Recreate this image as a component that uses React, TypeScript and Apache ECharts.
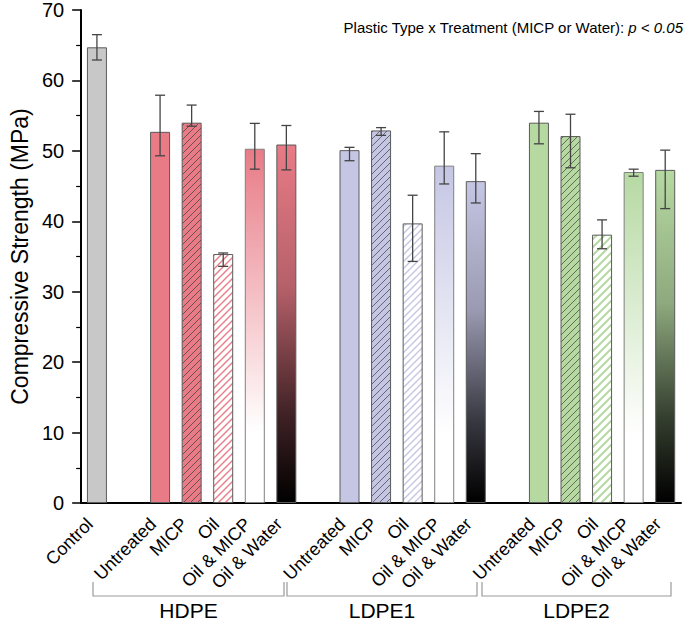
import React, { useEffect, useRef } from 'react';
import * as echarts from 'echarts';

const treatments = ['Untreated', 'MICP', 'Oil', 'Oil & MICP', 'Oil & Water'];
const groups = ['HDPE', 'LDPE1', 'LDPE2'];

const controlMean = 64.7;
const controlLow = 62.9;
const controlHigh = 66.5;

const hdpeMean = [52.7, 54.0, 35.35, 50.3, 50.9];
const hdpeLow = [49.3, 53.5, 33.6, 47.4, 47.3];
const hdpeHigh = [57.9, 56.5, 35.5, 53.9, 53.6];

const ldpe1Mean = [50.1, 52.9, 39.7, 47.9, 45.7];
const ldpe1Low = [48.6, 52.2, 34.3, 45.3, 42.6];
const ldpe1High = [50.5, 53.3, 43.7, 52.7, 49.6];

const ldpe2Mean = [54.0, 52.1, 38.1, 47.0, 47.3];
const ldpe2Low = [51.0, 47.6, 36.1, 46.4, 41.8];
const ldpe2High = [55.6, 55.2, 40.2, 47.4, 50.1];

const groupColors = ['#e87b86', '#c5c6e4', '#b6d9a2'];
const controlColor = '#c8c8c8';

const FONT = '"Liberation Sans", Arial, Helvetica, sans-serif';

function darken(hex: string, f: number) {
  const n = parseInt(hex.slice(1), 16);
  const r = Math.round(((n >> 16) & 255) * f);
  const g = Math.round(((n >> 8) & 255) * f);
  const b = Math.round((n & 255) * f);
  return `rgb(${r},${g},${b})`;
}

// "/" hatch tile drawn on a canvas, used as a repeating pattern fill
function hatch(bg: string, line: string, size: number, lw: number) {
  const cv = document.createElement('canvas');
  cv.width = size;
  cv.height = size;
  const ctx = cv.getContext('2d')!;
  ctx.fillStyle = bg;
  ctx.fillRect(0, 0, size, size);
  ctx.strokeStyle = line;
  ctx.lineWidth = lw;
  ctx.beginPath();
  ctx.moveTo(-1, size + 1);
  ctx.lineTo(size + 1, -1);
  ctx.moveTo(-1, 1);
  ctx.lineTo(1, -1);
  ctx.moveTo(size - 1, size + 1);
  ctx.lineTo(size + 1, size - 1);
  ctx.stroke();
  return { image: cv, repeat: 'repeat' };
}

export default function App() {
  const ref = useRef<HTMLDivElement>(null);

  useEffect(() => {
    if (!ref.current) return;
    const chart = echarts.init(ref.current, undefined, { renderer: 'svg' });

    const means = [hdpeMean, ldpe1Mean, ldpe2Mean];
    const lows = [hdpeLow, ldpe1Low, ldpe2Low];
    const highs = [hdpeHigh, ldpe1High, ldpe2High];

    const categories: string[] = ['Control'];
    const barData: any[] = [
      {
        value: controlMean,
        itemStyle: { color: controlColor, borderColor: '#5a5a5a', borderWidth: 1 },
      },
    ];
    const errData: any[] = [[0, controlLow, controlHigh]];

    groups.forEach((g, gi) => {
      categories.push('');
      barData.push('-');
      const c = groupColors[gi];
      treatments.forEach((t, ti) => {
        const idx = categories.length;
        categories.push(t);
        let itemStyle: any = { color: c, borderColor: '#5a5a5a', borderWidth: 1 };
        if (t === 'MICP') {
          itemStyle.color = hatch(c, 'rgba(60,60,60,0.7)', 7, 1);
        } else if (t === 'Oil') {
          itemStyle.color = hatch('#ffffff', c, gi === 2 ? 8 : 7, gi === 2 ? 2 : 1.4);
        } else if (t === 'Oil & MICP') {
          itemStyle.color = new echarts.graphic.LinearGradient(0, 0, 0, 1, [
            { offset: 0, color: c },
            { offset: 0.8, color: '#ffffff' },
            { offset: 1, color: '#ffffff' },
          ]);
          itemStyle.borderColor = '#808080';
        } else if (t === 'Oil & Water') {
          itemStyle.color = new echarts.graphic.LinearGradient(0, 0, 0, 1, [
            { offset: 0, color: c },
            { offset: 0.4, color: darken(c, 0.78) },
            { offset: 0.75, color: darken(c, 0.28) },
            { offset: 1, color: '#000000' },
          ]);
        }
        barData.push({ value: means[gi][ti], itemStyle });
        errData.push([idx, lows[gi][ti], highs[gi][ti]]);
      });
    });

    const bracketStyle = { stroke: '#9a9a9a', lineWidth: 1.2, fill: null };
    const brackets = [
      [93, 284],
      [287, 477],
      [482, 671],
    ];

    chart.setOption({
      animation: false,
      grid: { left: 67, right: 4, top: 10, bottom: 117 },
      xAxis: {
        type: 'category',
        data: categories,
        axisLine: { lineStyle: { color: '#000', width: 2 } },
        axisTick: {
          alignWithLabel: true,
          length: 9,
          interval: (i: number, v: string) => v !== '',
          lineStyle: { color: '#000', width: 1.5 },
        },
        axisLabel: {
          interval: 0,
          rotate: 45,
          fontSize: 18,
          color: '#000',
          margin: 11,
          padding: [0, 10, 0, 0],
          fontFamily: FONT,
        },
      },
      yAxis: {
        type: 'value',
        min: 0,
        max: 70,
        interval: 10,
        name: 'Compressive Strength (MPa)',
        nameLocation: 'middle',
        nameGap: 47,
        nameTextStyle: { fontSize: 23, color: '#000', fontFamily: FONT },
        axisLine: { show: true, lineStyle: { color: '#000', width: 2 } },
        axisTick: { show: true, length: 9, lineStyle: { color: '#000', width: 1.5 } },
        minorTick: { show: true, splitNumber: 2, length: 5, lineStyle: { color: '#000', width: 1.2 } },
        splitLine: { show: false },
        axisLabel: { fontSize: 20, color: '#000', margin: 17, fontFamily: FONT },
      },
      series: [
        {
          type: 'bar',
          data: barData,
          barWidth: 20,
          z: 2,
        },
        {
          type: 'custom',
          data: errData,
          encode: { x: 0, y: [1, 2] },
          z: 5,
          renderItem: (params: any, api: any) => {
            const x = api.value(0);
            const lo = api.coord([x, api.value(1)]);
            const hi = api.coord([x, api.value(2)]);
            const hw = 5;
            const style = { stroke: '#444', lineWidth: 1.3 };
            return {
              type: 'group',
              children: [
                { type: 'line', shape: { x1: lo[0], y1: lo[1], x2: hi[0], y2: hi[1] }, style },
                { type: 'line', shape: { x1: lo[0] - hw, y1: lo[1], x2: lo[0] + hw, y2: lo[1] }, style },
                { type: 'line', shape: { x1: hi[0] - hw, y1: hi[1], x2: hi[0] + hw, y2: hi[1] }, style },
              ],
            };
          },
        },
      ],
      graphic: [
        ...brackets.map((b) => ({
          type: 'polyline',
          shape: { points: [[b[0], 582], [b[0], 596], [b[1], 596], [b[1], 582]] },
          style: bracketStyle,
          silent: true,
        })),
        ...groups.map((g, gi) => ({
          type: 'text',
          x: (brackets[gi][0] + brackets[gi][1]) / 2,
          y: 610,
          style: {
            text: g,
            fontSize: 21,
            fill: '#000',
            fontFamily: FONT,
            align: 'center',
            verticalAlign: 'middle',
          },
        })),
        {
          type: 'text',
          x: 683,
          y: 27,
          style: {
            text: '{n|Plastic Type x Treatment (MICP or Water): }{i|p < 0.05}',
            align: 'right',
            verticalAlign: 'middle',
            rich: {
              n: { fontSize: 15, fontFamily: FONT, fill: '#000' },
              i: { fontSize: 15, fontFamily: FONT, fontStyle: 'italic', fill: '#000' },
            },
          },
        },
      ],
    });

    return () => chart.dispose();
  }, []);

  return (
    <div
      ref={ref}
      style={{ position: 'fixed', left: 0, top: 0, width: 685, height: 620, background: '#fff' }}
    />
  );
}
